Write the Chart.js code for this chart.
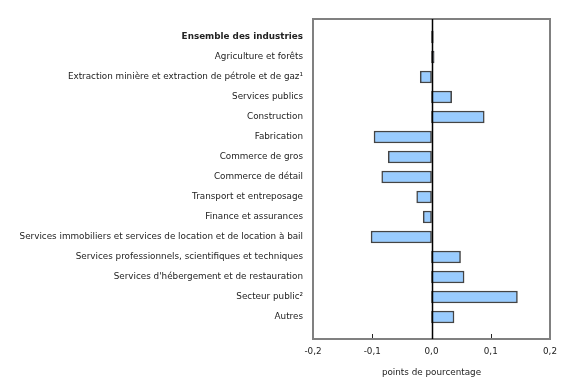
<!DOCTYPE html>
<html>
<head>
<meta charset="utf-8">
<script src="https://cdn.jsdelivr.net/npm/chart.js@4.4.1/dist/chart.umd.min.js"></script>
<style>
  html, body { margin: 0; padding: 0; background: #fff; }
  #wrap { width: 580px; height: 380px; }
</style>
</head>
<body>
<div id="wrap"><canvas id="chart" width="580" height="380"></canvas></div>
<script>
const industries = [
    'Ensemble des industries',
    'Agriculture et forêts',
    'Extraction minière et extraction de pétrole et de gaz¹',
    'Services publics',
    'Construction',
    'Fabrication',
    'Commerce de gros',
    'Commerce de détail',
    'Transport et entreposage',
    'Finance et assurances',
    'Services immobiliers et services de location et de location à bail',
    'Services professionnels, scientifiques et techniques',
    "Services d'hébergement et de restauration",
    'Secteur public²',
    'Autres'
];
const contributions = [0.003, 0.0045, -0.019, 0.034, 0.089, -0.097, -0.073, -0.084, -0.025, -0.014, -0.102, 0.049, 0.055, 0.145, 0.038];
const xTicks = [-0.2, -0.1, 0, 0.1, 0.2];
const xTitle = 'points de pourcentage';

const fontFamily = "'DejaVu Sans', Verdana, sans-serif";
const textColor = '#222';

// frame, zero line and the little inward tick marks
const framePlugin = {
    id: 'frame',
    afterDatasetsDraw(chart) {
        const {ctx, chartArea: a, scales: {x}} = chart;
        ctx.save();
        ctx.strokeStyle = '#222';
        ctx.lineWidth = 1;
        xTicks.forEach(v => {
            if (v === 0) return;
            const px = Math.round(x.getPixelForValue(v)) + 0.5;
            ctx.beginPath();
            ctx.moveTo(px, a.bottom);
            ctx.lineTo(px, a.bottom - 5);
            ctx.stroke();
        });
        ctx.strokeStyle = '#808080';
        ctx.lineWidth = 2;
        ctx.strokeRect(a.left, a.top, a.right - a.left, a.bottom - a.top);
        const zx = Math.round(x.getPixelForValue(0)) + 0.5;
        ctx.strokeStyle = '#000';
        ctx.lineWidth = 1.5;
        ctx.beginPath();
        ctx.moveTo(zx, a.top);
        ctx.lineTo(zx, a.bottom);
        ctx.stroke();
        ctx.restore();
    }
};

new Chart(document.getElementById('chart').getContext('2d'), {
    type: 'bar',
    data: {
        datasets: [{
            data: contributions.map((v, i) => ({x: v, y: i})),
            backgroundColor: '#99ccff',
            borderColor: '#444',
            borderWidth: 1.5,
            borderSkipped: false,
            barThickness: 12
        }]
    },
    options: {
        indexAxis: 'y',
        responsive: false,
        animation: false,
        layout: { padding: { top: 19, right: 30, left: 0, bottom: 0 } },
        plugins: { legend: { display: false }, tooltip: { enabled: false } },
        scales: {
            y: {
                type: 'linear',
                reverse: true,
                offset: false,
                min: -0.9,
                max: 15.1,
                afterBuildTicks: s => { s.ticks = industries.map((_, i) => ({value: i})); },
                afterFit: s => { s.width = 313; },
                grid: { display: false, drawTicks: false, offset: false },
                border: { display: false },
                ticks: {
                    autoSkip: false,
                    padding: 10,
                    color: textColor,
                    font: c => ({ family: fontFamily, size: 8.8, weight: c.index === 0 ? 'bold' : 'normal' }),
                    callback: (v, i) => industries[i]
                }
            },
            x: {
                type: 'linear',
                min: -0.2,
                max: 0.2,
                afterBuildTicks: s => { s.ticks = xTicks.map(v => ({value: v})); },
                afterFit: s => { s.height = 41; },
                grid: { display: false, drawTicks: false },
                border: { display: false },
                ticks: {
                    padding: 7,
                    color: textColor,
                    font: { family: fontFamily, size: 8.8 },
                    callback: v => (Math.abs(v) < 1e-9 ? 0 : v).toFixed(1).replace('.', ',')
                },
                title: {
                    display: true,
                    text: xTitle,
                    color: textColor,
                    font: { family: fontFamily, size: 8.8 },
                    padding: { top: 0, bottom: 2 }
                }
            }
        }
    },
    plugins: [framePlugin]
});
</script>
</body>
</html>
